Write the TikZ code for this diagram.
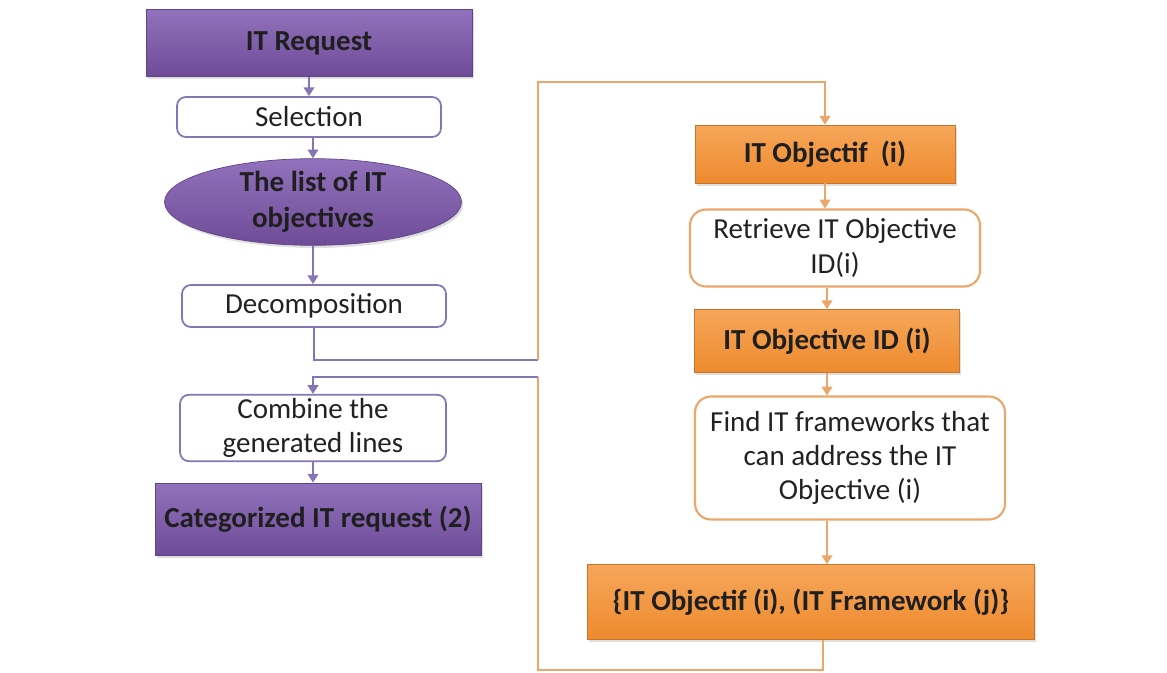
\documentclass[tikz,border=0pt]{standalone}
\usepackage{fontspec}
\setmainfont{Carlito}
\usetikzlibrary{shapes.geometric,arrows.meta,shadows}
\definecolor{purpfill}{HTML}{7B54A8}
\definecolor{purptop}{HTML}{9272BC}
\definecolor{purpline}{HTML}{8675B5}
\definecolor{orgfill}{HTML}{EE8A2E}
\definecolor{orgtop}{HTML}{F6A75A}
\definecolor{orgline}{HTML}{EBA66A}
\definecolor{inktext}{HTML}{222222}
\tikzset{
x=0.02cm, y=-0.02cm,
>={Triangle[length=5pt,width=6pt]},
every node/.style={font=\fontsize{16.5}{19.5}\selectfont, text=inktext, align=center, inner sep=2pt},
boxshadow/.style={drop shadow={opacity=0.25, shadow xshift=1pt, shadow yshift=-1.5pt}},
purpbox/.style={rectangle, draw=purpfill!80!black, line width=0.4pt, top color=purptop, bottom color=purpfill!90!black, boxshadow, font=\fontsize{16.5}{20}\selectfont\bfseries, text=black!88},
purpstep/.style={rectangle, rounded corners=5pt, draw=purpline, line width=1pt, fill=white},
orgbox/.style={rectangle, draw=orgfill!85!black, line width=0.4pt, top color=orgtop, bottom color=orgfill, boxshadow, font=\fontsize{16.5}{20}\selectfont\bfseries, text=black!88},
orgstep/.style={rectangle, rounded corners=9pt, draw=orgline, line width=1.2pt, fill=white},
purpflow/.style={->, draw=purpline, line width=1.2pt},
orgflow/.style={->, draw=orgline, line width=1.2pt},
}
\begin{document}
\begin{tikzpicture}
    \useasboundingbox (0,0) rectangle (1167,673);

    % left column
    \node[purpbox, minimum width=6.52cm, minimum height=1.34cm] (req) at (309,43) {IT Request};
    \node[purpstep, minimum width=5.28cm, minimum height=0.8cm] (sel) at (309,117) {Selection};
    \node[ellipse, draw=purpfill!80!black, top color=purptop, bottom color=purpfill!90!black, boxshadow, minimum width=5.94cm, minimum height=1.62cm, inner sep=0pt, font=\fontsize{16.5}{20.5}\selectfont\bfseries, text=black!88] (list) at (313,202) {The list of IT\\objectives};
    \node[purpstep, minimum width=5.28cm, minimum height=0.84cm] (dec) at (314,306) {Decomposition};
    \node[purpstep, minimum width=5.32cm, minimum height=1.24cm] (comb) at (313,428) {Combine the\\generated lines};
    \node[purpbox, minimum width=6.52cm, minimum height=1.44cm] (cat) at (318,519) {Categorized IT request (2)};

    % right column
    \node[orgbox, minimum width=5.2cm, minimum height=1.16cm] (obj) at (825,154) {IT Objectif~~(i)};
    \node[orgstep, minimum width=5.8cm, minimum height=1.54cm] (retr) at (835,248) {Retrieve IT Objective\\ID(i)};
    \node[orgbox, minimum width=5.3cm, minimum height=1.26cm] (oid) at (827,341) {IT Objective ID (i)};
    \node[orgstep, minimum width=6.2cm, minimum height=2.46cm] (find) at (850,458) {Find IT frameworks that\\can address the IT\\Objective (i)};
    \node[orgbox, minimum width=8.94cm, minimum height=1.5cm] (pair) at (811,602) {\{IT Objectif (i), (IT Framework (j)\}};

    \coordinate (outR) at (538,360);
    \coordinate (topL) at (538,82);
    \coordinate (botR) at (823,670);
    \coordinate (backL) at (538,670);
    \coordinate (inR) at (538,377);

    \draw[purpflow] (req.south -| 309,0) -- (sel);
    \draw[purpflow] (sel.south -| 313,0) -- (list);
    \draw[purpflow] (list) -- (dec.north -| list);
    \draw[purpflow] (comb) -- (cat.north -| comb);

    % loop over the objectives
    \draw[draw=purpline, line width=1.2pt] (dec.south) |- (outR);
    \draw[orgflow] (outR) -- (topL) -| (obj.north);
    \draw[orgflow] (obj) -- (retr.north -| obj);
    \draw[orgflow] (retr.south -| oid) -- (oid);
    \draw[orgflow] (oid) -- (find.north -| oid);
    \draw[orgflow] (find.south -| oid) -- (pair.north -| oid);
    \draw[draw=orgline, line width=1.2pt] (pair.south -| botR) -- (botR) -- (backL) -- (inR);
    \draw[purpflow] (inR) -| (comb.north);
\end{tikzpicture}
\end{document}
